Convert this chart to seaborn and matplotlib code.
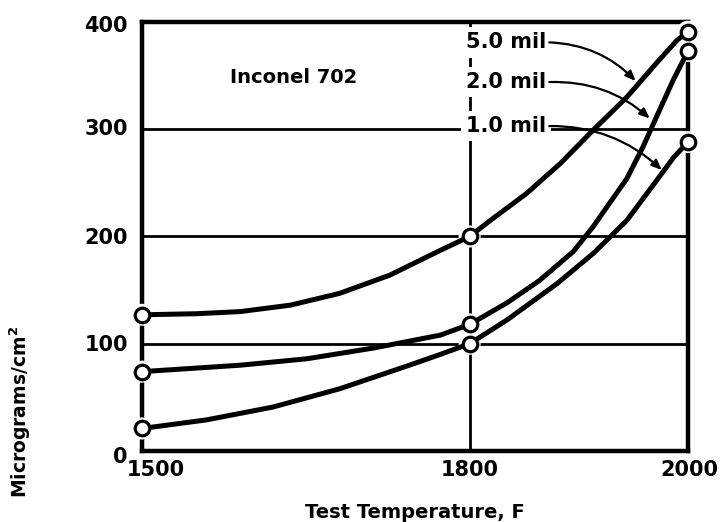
import matplotlib
matplotlib.use("Agg")
import matplotlib.pyplot as plt
import matplotlib.transforms as mtransforms
import seaborn as sns
import pandas as pd

# ---- data ----
temp_5mil = [1500, 1550, 1590, 1636, 1681, 1727, 1773, 1800, 1819, 1852, 1883, 1913, 1944, 1974, 1990, 2000]
wt_5mil = [127, 128, 130, 136, 147, 164, 187, 200, 215, 240, 268, 299, 330, 365, 383, 391]

temp_2mil = [1500, 1590, 1651, 1712, 1773, 1800, 1834, 1864, 1895, 1913, 1944, 1959, 1974, 1987, 2000]
wt_2mil = [74, 80, 86, 96, 108, 118, 138, 159, 186, 209, 254, 284, 318, 347, 373]

temp_1mil = [1500, 1559, 1620, 1681, 1742, 1773, 1800, 1834, 1880, 1913, 1944, 1974, 1987, 2000]
wt_1mil = [21, 29, 41, 58, 79, 90, 100, 122, 156, 184, 215, 256, 274, 288]

marker_temps = [1500, 1800, 2000]
marker_5mil = [127, 200, 391]
marker_2mil = [74, 118, 373]
marker_1mil = [21, 100, 288]

series_names = ["5.0 mil", "2.0 mil", "1.0 mil"]
label_values = [381, 344, 303]
arrow_tips = [(1952, 345), (1965, 310), (1976, 262)]

x_ticks = [1500, 1800, 2000]
y_ticks = [0, 100, 200, 300, 400]
title_text = "Inconel 702"
x_label = "Test Temperature, F"
y_label = "Micrograms/cm$^\\mathbf{2}$"

# ---- build tables ----
curves = pd.concat([
    pd.DataFrame({"temp": temp_5mil, "wt": wt_5mil, "series": series_names[0]}),
    pd.DataFrame({"temp": temp_2mil, "wt": wt_2mil, "series": series_names[1]}),
    pd.DataFrame({"temp": temp_1mil, "wt": wt_1mil, "series": series_names[2]}),
], ignore_index=True)
markers = pd.concat([
    pd.DataFrame({"temp": marker_temps, "wt": marker_5mil, "series": series_names[0]}),
    pd.DataFrame({"temp": marker_temps, "wt": marker_2mil, "series": series_names[1]}),
    pd.DataFrame({"temp": marker_temps, "wt": marker_1mil, "series": series_names[2]}),
], ignore_index=True)

sns.set_style("white")
plt.rcParams["font.family"] = ["DejaVu Sans"]
plt.rcParams["font.weight"] = "bold"
plt.rcParams["text.color"] = "black"

fig = plt.figure(figsize=(7.23, 5.22), dpi=100)
ax = fig.add_axes([142 / 723, 1 - 451 / 522, (688 - 142) / 723, (451 - 22) / 522])
ax.set_xlim(1500, 2000)
ax.set_ylim(0, 400)

# grid
for v in [100, 200, 300]:
    ax.axhline(v, color="black", lw=2.0, zorder=1)
ax.axvline(1800, color="black", lw=2.0, zorder=1)

for s in ax.spines.values():
    s.set_linewidth(3.2)
    s.set_color("black")
    s.set_zorder(2)

palette = {n: "black" for n in series_names}

# white halo around markers (creates gaps in grid lines)
ax.scatter(markers["temp"], markers["wt"], s=22 ** 2 * 0.52, color="white",
           edgecolor="none", zorder=3, clip_on=False)

sns.lineplot(data=curves, x="temp", y="wt", hue="series", palette=palette,
             sort=False, estimator=None, lw=3.6, legend=False, ax=ax, zorder=4)
for line in ax.lines:
    line.set_solid_capstyle("round")
    line.set_solid_joinstyle("round")
    line.set_clip_on(False)

sns.scatterplot(data=markers, x="temp", y="wt", hue="series", palette=palette,
                s=110, marker="o", linewidth=2.3,
                legend=False, ax=ax, zorder=5, clip_on=False)
ax.collections[-1].set_facecolor("white")
ax.collections[-1].set_edgecolor("black")

# ticks
ax.set_xticks(x_ticks)
ax.set_yticks(y_ticks)
ax.tick_params(length=0, labelbottom=False, labelleft=False)
ax.set_xlabel("")
ax.set_ylabel("")

def px(dx, dy):
    return mtransforms.ScaledTranslation(dx / 100, dy / 100, fig.dpi_scale_trans)

x_off = {1500: 14, 1800: 0, 2000: 1}
for t in x_ticks:
    ax.text(t, 0, str(t), transform=ax.get_xaxis_transform() + px(x_off[t], -19),
            ha="center", va="center", fontsize=15, fontweight="bold", color="black")
y_off = {0: -6, 100: -1, 200: -2, 300: 0, 400: -4}
for v in y_ticks:
    ax.text(0, v, str(v), transform=ax.get_yaxis_transform() + px(-14, y_off[v]),
            ha="right", va="center", fontsize=15, fontweight="bold", color="black")

# title inside
ax.text(1639, 348, title_text, ha="center", va="center", fontsize=14,
        fontweight="bold", zorder=6, color="black")

# series labels with arrows
for name, yv, tip in zip(series_names, label_values, arrow_tips):
    ax.text(1870, yv, name, ha="right", va="center", fontsize=15, fontweight="bold",
            zorder=6, color="black",
            bbox=dict(boxstyle="square,pad=0.25", fc="white", ec="none"))
    ax.annotate("", xy=tip, xytext=(1873, yv),
                arrowprops=dict(arrowstyle="-|>,head_length=0.6,head_width=0.25",
                                color="black", lw=1.6,
                                connectionstyle="arc3,rad=-0.2",
                                shrinkA=0, shrinkB=0),
                zorder=6)

fig.text(415 / 723, 1 - 512 / 522, x_label, ha="center", va="center",
         fontsize=14, fontweight="bold", color="black")
fig.text(20 / 723, 1 - 326 / 522, y_label, rotation=90, ha="center", va="top",
         fontsize=13.5, fontweight="bold", color="black")

fig.savefig("out.png", dpi=100, facecolor="white")
